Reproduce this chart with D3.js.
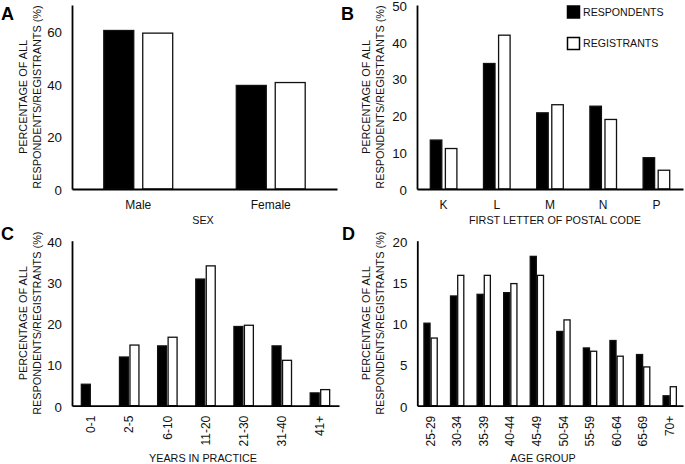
<!DOCTYPE html>
<html>
<head>
<meta charset="utf-8">
<script src="https://cdn.jsdelivr.net/npm/d3@7"></script>
<style>
  html, body { margin: 0; padding: 0; background: #fff; }
  svg { display: block; font-family: "Liberation Sans", Arial, sans-serif; }
</style>
</head>
<body>
<svg id="chart" width="685" height="464"></svg>
<script>
// ---- data ----
const sexCats = ["Male", "Female"];
const sexResp = [60.3, 39.4];
const sexReg = [59.3, 40.5];
const sexTicks = [0, 20, 40, 60];

const postalCats = ["K", "L", "M", "N", "P"];
const postalResp = [13.3, 34.1, 20.7, 22.5, 8.5];
const postalReg = [11.0, 41.8, 22.9, 18.9, 5.1];
const postalTicks = [0, 10, 20, 30, 40, 50];

const yearsCats = ["0-1", "2-5", "6-10", "11-20", "21-30", "31-40", "41+"];
const yearsResp = [5.2, 11.8, 14.5, 30.7, 19.2, 14.5, 3.1];
const yearsReg = [0, 14.7, 16.6, 33.9, 19.5, 11.0, 3.9];
const yearsTicks = [0, 10, 20, 30, 40];

const ageCats = ["25-29", "30-34", "35-39", "40-44", "45-49", "50-54", "55-59", "60-64", "65-69", "70+"];
const ageResp = [10.0, 13.3, 13.5, 13.7, 18.1, 9.0, 7.0, 7.9, 6.2, 1.2];
const ageReg = [8.2, 15.8, 15.8, 14.8, 15.8, 10.4, 6.6, 6.0, 4.7, 2.3];
const ageTicks = [0, 5, 10, 15, 20];

const seriesNames = ["RESPONDENTS", "REGISTRANTS"];
const yTitle = ["PERCENTAGE OF ALL", "RESPONDENTS/REGISTRANTS (%)"];

// ---- drawing ----
const svg = d3.select("#chart");

function panel(cfg) {
  const g = svg.append("g");
  const x = d3.scaleBand().domain(cfg.cats).range([cfg.x0, cfg.x1]).paddingInner(0).paddingOuter(0);
  const groupW = x.bandwidth() * cfg.groupFrac;
  const barW = groupW / (2 + cfg.gapRatio);
  const gap = barW * cfg.gapRatio;
  const y = d3.scaleLinear().domain([0, cfg.yMax]).range([cfg.yBase, cfg.yTop]);

  const rows = cfg.cats.map((c, i) => ({ c, v: [cfg.resp[i], cfg.reg[i]] }));
  rows.forEach(r => {
    const start = x(r.c) + (x.bandwidth() - groupW) / 2;
    r.v.forEach((v, s) => {
      if (v <= 0) return;
      g.append("rect")
        .attr("x", start + s * (barW + gap))
        .attr("y", y(v))
        .attr("width", barW)
        .attr("height", y(0) - y(v))
        .attr("fill", s === 0 ? "#000" : "#fff")
        .attr("stroke", "#111")
        .attr("stroke-width", 1.3);
    });
  });

  // y axis (line only, no tick marks)
  const ya = g.append("g").attr("transform", `translate(${cfg.x0},0)`)
    .call(d3.axisLeft(y).tickValues(cfg.ticks).tickSize(0).tickPadding(10).tickFormat(d3.format("d")));
  ya.select(".domain").attr("stroke", "#000").attr("stroke-width", 1.8);
  ya.selectAll("text").attr("font-size", 13.3).attr("fill", "#111").attr("dy", "0.4em")
    .attr("font-family", "Liberation Sans, Arial, sans-serif");

  // x axis
  const xa = g.append("g").attr("transform", `translate(0,${cfg.yBase})`)
    .call(d3.axisBottom(x).tickSize(0).tickPadding(cfg.rotate ? 10 : 11));
  xa.select(".domain").attr("stroke", "#000").attr("stroke-width", 1.8);
  xa.selectAll("text").attr("font-size", 12).attr("fill", "#111")
    .attr("font-family", "Liberation Sans, Arial, sans-serif");
  if (cfg.rotate) {
    xa.selectAll("text")
      .attr("text-anchor", "end")
      .attr("transform", "rotate(-90)")
      .attr("x", -10).attr("y", 0).attr("dy", "0.35em");
  }

  // x title
  g.append("text").attr("x", cfg.xTitleX).attr("y", cfg.xTitleY)
    .attr("text-anchor", "middle").attr("font-size", 10.8).attr("fill", "#111")
    .text(cfg.xTitle);

  // y title (two lines)
  const cy = (cfg.yTop + cfg.yBase) / 2;
  yTitle.forEach((t, i) => {
    const cx = cfg.yTitleX + i * 13.5;
    g.append("text")
      .attr("transform", `translate(${cx},${cy}) rotate(-90)`)
      .attr("text-anchor", "middle").attr("dy", "0.35em")
      .attr("font-size", 10.9).attr("fill", "#111")
      .text(t);
  });

  // panel letter
  g.append("text").attr("x", cfg.letterX).attr("y", cfg.letterY)
    .attr("font-size", 18).attr("font-weight", "bold").attr("fill", "#000")
    .text(cfg.letter);
  return g;
}

panel({ cats: sexCats, resp: sexResp, reg: sexReg, ticks: sexTicks, yMax: 70,
  x0: 72, x1: 337, yTop: 5, yBase: 189, groupFrac: 0.52, gapRatio: 0.3, rotate: false,
  xTitle: "SEX", xTitleX: 203, xTitleY: 224, yTitleX: 23.5, letter: "A", letterX: 1, letterY: 20 });

panel({ cats: postalCats, resp: postalResp, reg: postalReg, ticks: postalTicks, yMax: 50,
  x0: 417, x1: 683, yTop: 5, yBase: 189, groupFrac: 0.5, gapRatio: 0.31, rotate: false,
  xTitle: "FIRST LETTER OF POSTAL CODE", xTitleX: 555, xTitleY: 224, yTitleX: 366.5, letter: "B", letterX: 341, letterY: 19.5 });

panel({ cats: yearsCats, resp: yearsResp, reg: yearsReg, ticks: yearsTicks, yMax: 40,
  x0: 72, x1: 339, yTop: 240.7, yBase: 405.7, groupFrac: 0.51, gapRatio: 0.17, rotate: true,
  xTitle: "YEARS IN PRACTICE", xTitleX: 203, xTitleY: 462, yTitleX: 23.5, letter: "C", letterX: 1, letterY: 239.5 });

panel({ cats: ageCats, resp: ageResp, reg: ageReg, ticks: ageTicks, yMax: 20,
  x0: 417.3, x1: 683, yTop: 240.7, yBase: 405.7, groupFrac: 0.5, gapRatio: 0.18, rotate: true,
  xTitle: "AGE GROUP", xTitleX: 543, xTitleY: 462, yTitleX: 366.5, letter: "D", letterX: 342, letterY: 239.5 });

// legend (in panel B)
const leg = svg.append("g");
seriesNames.forEach((name, i) => {
  const yy = 6 + i * 31.5;
  leg.append("rect").attr("x", 567.5).attr("y", yy).attr("width", 12).attr("height", 12)
    .attr("fill", i === 0 ? "#000" : "#fff").attr("stroke", "#000").attr("stroke-width", 1.5);
  leg.append("text").attr("x", 583).attr("y", yy + 6).attr("dy", "0.35em")
    .attr("font-size", 10.6).attr("fill", "#111").text(name);
});
</script>
</body>
</html>
